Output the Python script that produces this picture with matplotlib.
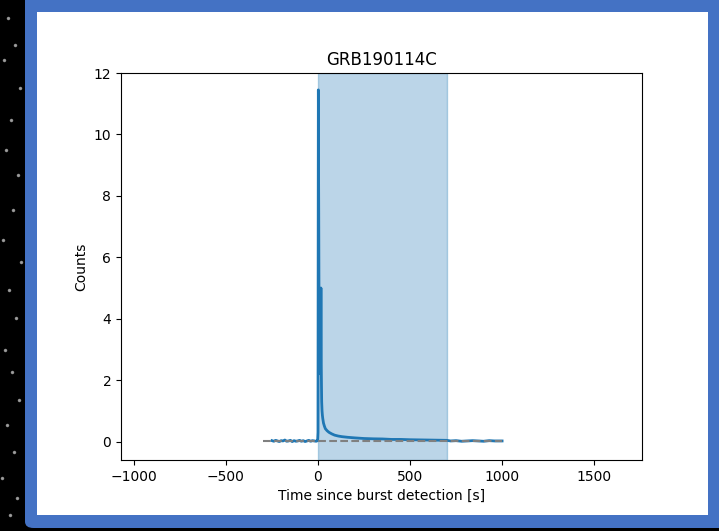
import matplotlib
matplotlib.use("Agg")
import matplotlib.pyplot as plt
from matplotlib.patches import FancyBboxPatch, Rectangle

# light curve of GRB190114C (time in s, counts)
pre_t = [-250, -240, -230, -220, -210, -200, -190, -180, -170, -160, -150, -140,
         -130, -120, -110, -100, -90, -80, -70, -60, -50, -40, -30, -20, -10, -2]
pre_c = [0.03, 0.01, 0.04, 0.02, 0.00, 0.03, 0.02, 0.05, 0.01, 0.02, 0.04, 0.00,
         0.03, 0.01, 0.02, 0.04, 0.01, 0.03, 0.00, 0.02, 0.04, 0.01, 0.03, 0.02, 0.01, 0.03]
burst_t = [0, 1, 2, 3, 4, 5, 6, 7, 8, 9, 10, 11, 12, 13, 14, 15, 16, 17, 18, 19,
           20, 22, 24, 26, 30, 35, 40, 50, 60, 75, 90, 110, 130, 160, 200, 250,
           300, 350, 400, 450, 500, 550, 600, 650, 700]
burst_c = [0.3, 6.0, 11.45, 9.0, 7.5, 5.5, 4.0, 3.0, 2.5, 3.2, 4.0, 4.4, 3.8, 3.0,
           2.2, 3.5, 5.0, 3.5, 2.4, 1.8, 1.3, 1.0, 0.85, 0.75, 0.6, 0.5, 0.42, 0.35,
           0.30, 0.25, 0.21, 0.18, 0.16, 0.14, 0.12, 0.10, 0.09, 0.085, 0.07, 0.07,
           0.06, 0.055, 0.05, 0.045, 0.04]
post_t = [720, 750, 780, 810, 840, 870, 900, 930, 960, 1000]
post_c = [0.02, 0.03, 0.01, 0.02, 0.03, 0.02, 0.01, 0.03, 0.02, 0.02]

time = pre_t + burst_t + post_t
counts = pre_c + burst_c + post_c

background = 0.03
bkg_range = (-300, 1000)
span = (0, 700)

# starfield decoration on the black margin (pixel positions)
stars_x = [8, 15, 4, 20, 11, 6, 18, 13, 3, 21, 9, 16, 5, 12, 19, 7, 14, 2, 17, 10]
stars_y = [18, 45, 60, 88, 120, 150, 175, 210, 240, 262, 290, 318, 350, 372,
           400, 425, 452, 478, 498, 515]

W, H = 719, 531
fig = plt.figure(figsize=(W / 100, H / 100), dpi=100, facecolor="black")

fig.patches.append(FancyBboxPatch((25 / W, 3 / H), 720 / W, 548 / H,
                                  boxstyle="round,pad=0,rounding_size=0.012",
                                  transform=fig.transFigure, facecolor="#4472c4",
                                  edgecolor="none", zorder=-3))
fig.patches.append(Rectangle((37 / W, (531 - 515) / H), (708 - 37) / W, (515 - 12) / H,
                             transform=fig.transFigure, facecolor="white",
                             edgecolor="none", zorder=-2))
fig.lines.append(plt.Line2D([x / W for x in stars_x], [1 - y / H for y in stars_y],
                            transform=fig.transFigure, linestyle="none", marker="o",
                            markersize=1.5, color="#bbbbbb", alpha=0.7, zorder=-3))

ax = fig.add_axes([121 / W, (531 - 460) / H, (642 - 121) / W, (460 - 73) / H])
ax.axvspan(span[0], span[1], alpha=0.3, color="C0")
ax.plot(time, counts, color="C0", linewidth=2)
ax.hlines(background, bkg_range[0], bkg_range[1], colors="grey", linestyles="--")

ax.set_xlim(-1070, 1760)
ax.set_ylim(-0.6, 12)
ax.set_title("GRB190114C")
ax.set_xlabel("Time since burst detection [s]")
ax.set_ylabel("Counts")

fig.savefig("out.png", dpi=100, facecolor=fig.get_facecolor())
